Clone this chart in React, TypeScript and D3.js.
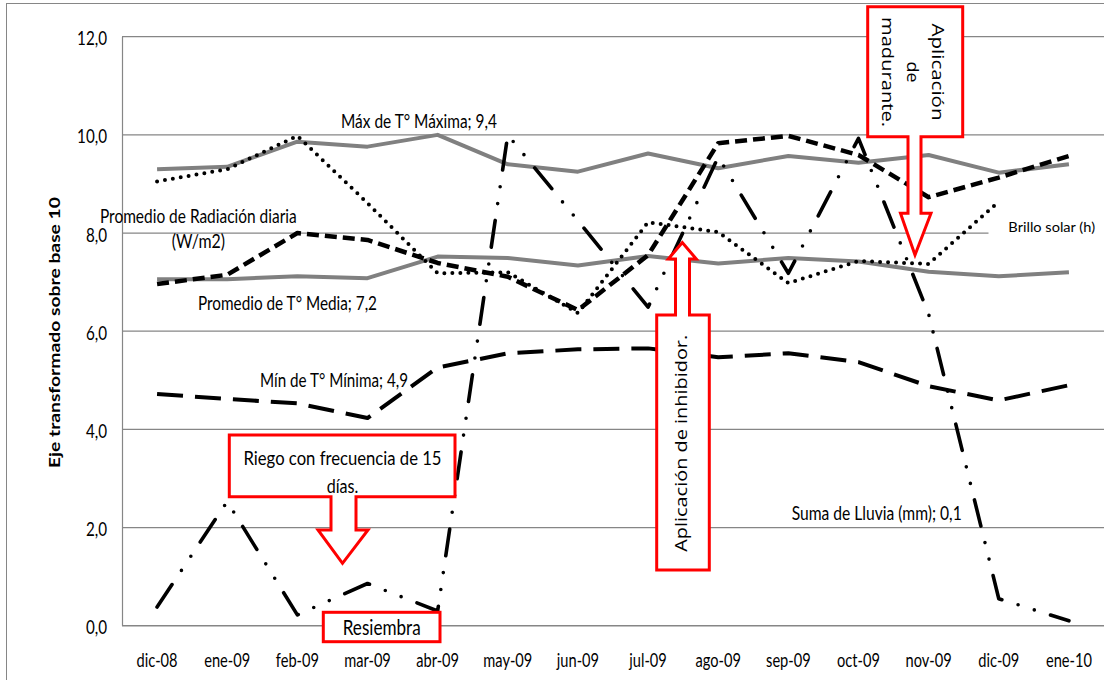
import React from "react";
import * as d3 from "d3";

// Months on the category axis
const months = [
  "dic-08", "ene-09", "feb-09", "mar-09", "abr-09", "may-09", "jun-09",
  "jul-09", "ago-09", "sep-09", "oct-09", "nov-09", "dic-09", "ene-10",
];

// Series on a base-10 transformed scale
const maxTemp = [9.3, 9.35, 9.86, 9.76, 10.0, 9.4, 9.25, 9.62, 9.32, 9.57, 9.43, 9.59, 9.23, 9.4];
const meanTemp = [7.06, 7.06, 7.12, 7.08, 7.52, 7.49, 7.34, 7.53, 7.38, 7.49, 7.42, 7.21, 7.12, 7.2];
const radiation = [6.96, 7.15, 8.0, 7.86, 7.39, 7.11, 6.43, 7.55, 9.83, 9.98, 9.59, 8.73, 9.13, 9.57];
const sunshine = [9.05, 9.3, 9.98, 8.61, 7.18, 7.2, 6.37, 8.22, 8.02, 6.98, 7.43, 7.37, 8.64];
const minTemp = [4.72, 4.62, 4.53, 4.23, 5.26, 5.55, 5.63, 5.65, 5.47, 5.55, 5.37, 4.88, 4.59, 4.9];
const rainfall = [0.38, 2.53, 0.22, 0.86, 0.3, 10.0, 8.25, 6.49, 9.55, 7.18, 9.93, 6.35, 0.55, 0.1];

const yTicks = [0, 2, 4, 6, 8, 10, 12];

const W = 1104;
const H = 680;
const PLOT = { left: 122, right: 1104, top: 36.7, bottom: 625.7 };

const FONT = "Lato, 'Open Sans', sans-serif";
const FONT2 = "'Open Sans', Lato, sans-serif";
const GRID = "#868686";
const RED = "#ff0000";

const x = d3.scaleBand<string>().domain(months).range([PLOT.left, PLOT.right]).padding(0);
const cx = (m: string) => (x(m) as number) + x.bandwidth() / 2;
const y = d3.scaleLinear().domain([0, 12]).range([PLOT.bottom, PLOT.top]);

const lineFor = (vals: number[]) =>
  d3
    .line<number>()
    .x((_, i) => cx(months[i]))
    .y((d) => y(d))(vals) as string;

const fmt = (v: number) => d3.format(".1f")(v).replace(".", ",");

type TxtProps = {
  x: number;
  y: number;
  size: number;
  len?: number;
  sx?: number;
  rot?: number;
  anchor?: "start" | "middle" | "end";
  weight?: number | string;
  family?: string;
  children: React.ReactNode;
};

function Txt({ x, y, size, len, sx = 1, rot = 0, anchor = "middle", weight, family = FONT, children }: TxtProps) {
  const t = `translate(${x},${y})${sx !== 1 ? ` scale(${sx},1)` : ""}${rot ? ` rotate(${rot})` : ""}`;
  return (
    <text
      transform={t}
      fontFamily={family}
      fontSize={size}
      fontWeight={weight}
      textAnchor={anchor}
      fill="#000"
      textLength={len}
      lengthAdjust={len ? "spacingAndGlyphs" : undefined}
    >
      {children}
    </text>
  );
}

export default function App() {
  const gridTicks = yTicks.filter((t) => t > 0);
  return (
    <svg
      width={W}
      height={H}
      style={{ position: "absolute", left: 0, top: 0, background: "#fff" }}
    >
      {/* chart frame */}
      <rect x={6.5} y={3.5} width={1300} height={900} fill="#fff" stroke={GRID} strokeWidth={1} />

      {/* horizontal gridlines */}
      {gridTicks.map((t) => (
        <line key={t} x1={PLOT.left} x2={PLOT.right} y1={y(t)} y2={y(t)} stroke={GRID} strokeWidth={1.2} />
      ))}
      {/* axes */}
      <line x1={PLOT.left + 0.5} x2={PLOT.left + 0.5} y1={y(12)} y2={y(0)} stroke={GRID} strokeWidth={1.2} />
      <line x1={PLOT.left} x2={PLOT.right} y1={y(0)} y2={y(0)} stroke={GRID} strokeWidth={1.5} />

      {/* y tick labels */}
      {yTicks.map((t) => (
        <Txt key={t} x={107} y={y(t) + 8.5} size={19.5} sx={0.78} anchor="end">
          {fmt(t)}
        </Txt>
      ))}
      {/* x tick labels */}
      {months.map((m) => (
        <Txt key={m} x={cx(m)} y={666.5} size={19.5} sx={0.75}>
          {m}
        </Txt>
      ))}

      {/* y axis title */}
      <Txt x={60} y={332.5} size={14.5} rot={-90} weight="bold" len={271}>
        Eje transformado sobre base 10
      </Txt>

      {/* series */}
      <g fill="none" strokeLinejoin="round">
        <path d={lineFor(maxTemp)} stroke="#808080" strokeWidth={4} />
        <path d={lineFor(meanTemp)} stroke="#808080" strokeWidth={4} />
        <path d={lineFor(minTemp)} stroke="#000" strokeWidth={4} strokeDasharray="26 12" />
        <path d={lineFor(radiation)} stroke="#000" strokeWidth={4.5} strokeDasharray="12 6" />
        <path d={lineFor(sunshine)} stroke="#000" strokeWidth={4} strokeDasharray="0 8" strokeLinecap="round" />
        <path
          d={lineFor(rainfall)}
          stroke="#000"
          strokeWidth={3.6}
          strokeDasharray="27 17 0 17 0 17"
          strokeLinecap="round"
        />
      </g>

      {/* data labels */}
      <Txt x={419} y={128} size={18.5} len={156}>Máx de T° Máxima; 9,4</Txt>
      <Txt x={198.3} y={223.3} size={19} len={196.7}>Promedio de Radiación diaria</Txt>
      <Txt x={198.3} y={248} size={19} len={53.3}>(W/m2)</Txt>
      <Txt x={287.5} y={310} size={18.5} len={179}>Promedio de T° Media; 7,2</Txt>
      <Txt x={334} y={386.7} size={18.5} len={148}>Mín de T° Mínima; 4,9</Txt>
      <Txt x={876.7} y={520} size={18.5} len={170}>Suma de Lluvia (mm); 0,1</Txt>
      <rect x={988.5} y={216} width={120} height={24} fill="#fff" />
      <Txt x={1051.7} y={232.3} size={14} len={86.7}>Brillo solar (h)</Txt>

      {/* annotation callouts */}
      <g fill="#fff" stroke={RED} strokeWidth={3} strokeLinejoin="miter">
        <path d="M229.3,435 H455 V496.7 H356 V530 H368 L342.5,563.3 L318,530 H331 V496.7 H229.3 Z" />
        <rect x={323.3} y={612.3} width={116.7} height={29.4} />
        <path d="M656.7,570 V315 H675.5 V259 H668.3 L682.3,242.5 L696.3,259 H689.5 V315 H709.3 V570 Z" />
        <path d="M867.7,6.7 H962.7 V136.7 H921 V213.3 H931 L915,255 L900.5,213.3 H908 V136.7 H867.7 Z" />
      </g>
      <Txt x={342.5} y={465} size={19.5} len={198}>Riego con frecuencia de 15</Txt>
      <Txt x={342.5} y={493} size={19.5} len={31.6}>días.</Txt>
      <Txt x={381.7} y={635} size={21} len={78}>Resiembra</Txt>
      <Txt x={687.3} y={443.3} size={17} rot={-90} len={217} family={FONT2}>
        Aplicación de inhibidor.
      </Txt>
      <Txt x={931.7} y={72} size={17} rot={90} len={97} family={FONT2}>Aplicación</Txt>
      <Txt x={906.7} y={72} size={17} rot={90} len={21} family={FONT2}>de</Txt>
      <Txt x={881.7} y={72} size={17} rot={90} len={110} family={FONT2}>madurante.</Txt>
    </svg>
  );
}
